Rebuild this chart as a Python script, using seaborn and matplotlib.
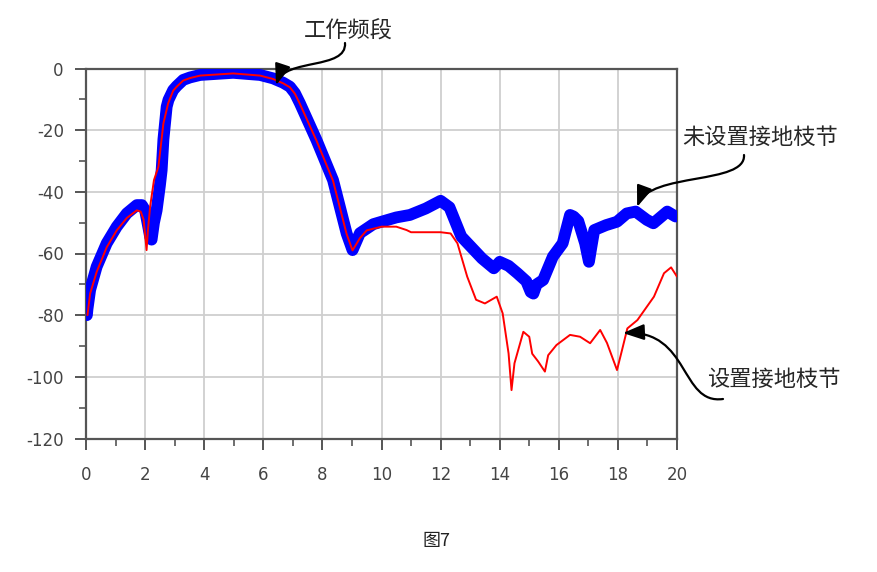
import numpy as np
import pandas as pd
import matplotlib.pyplot as plt
import seaborn as sns
from matplotlib.patches import FancyArrowPatch
from matplotlib.path import Path
from matplotlib.transforms import IdentityTransform
from matplotlib.ticker import MultipleLocator

# frequency (x) and response (dB)
freq_open = [0.03, 0.05, 0.14, 0.36, 0.7, 1.04, 1.38, 1.72, 1.89, 2.0, 2.1, 2.17, 2.22,
             2.3, 2.39, 2.5, 2.56, 2.62, 2.73, 2.79, 2.95, 3.07, 3.29, 3.52, 3.86, 4.98,
             5.89, 6.33, 6.45, 6.67, 6.9, 7.07, 7.24, 7.8, 8.36, 8.82, 9.02, 9.27, 9.72,
             10.0, 10.5, 10.96, 11.5, 12.0, 12.3, 12.7, 13.4, 13.8, 14.0, 14.3, 14.6,
             14.9, 15.05, 15.14, 15.25, 15.47, 15.8, 16.13, 16.38, 16.5, 16.66, 16.89,
             17.02, 17.1, 17.2, 17.6, 17.97, 18.3, 18.6, 18.98, 19.2, 19.67, 19.95]
db_open = [-80, -78, -71.8, -64.3, -56.7, -51.3, -47, -44.3, -44.3, -46, -51, -54.6, -55.5,
           -50, -46, -38, -33, -23, -12.4, -10.2, -7, -5.7, -3.7, -2.9, -2.1, -1.4,
           -2.1, -3.2, -3.7, -4.6, -5.9, -8, -11.3, -23.2, -36.2, -53.5, -58.9, -53.4, -50.5,
           -49.7, -48.3, -47.5, -45.4, -42.9, -45, -54.5, -61.6, -64.8, -62.7, -64, -66.4,
           -69, -72.5, -73, -70, -68.6, -61, -56.7, -47.5, -48, -49.5, -56.7,
           -62.7, -58, -52.4, -50.8, -49.7, -47, -46.4, -49.1, -50.2, -46.4, -48]

freq_stub = [0.05, 0.14, 0.36, 0.7, 1.04, 1.38, 1.72, 1.85, 1.95, 2.05, 2.1, 2.17, 2.3,
             2.45, 2.62, 2.78, 2.95, 3.07, 3.29, 3.52, 3.86, 4.98, 5.89, 6.33, 6.45, 6.67,
             6.9, 7.07, 7.24, 7.8, 8.36, 8.82, 9.02, 9.27, 9.5, 10.0, 10.5, 10.85, 11.0,
             12.0, 12.34, 12.57, 12.9, 13.2, 13.5, 13.9, 14.1, 14.3, 14.4, 14.5, 14.8,
             15.0, 15.1, 15.3, 15.53, 15.64, 15.92, 16.38, 16.72, 17.06, 17.4, 17.63,
             17.97, 18.14, 18.32, 18.66, 19.22, 19.56, 19.8, 20.0]
db_stub = [-80, -73, -66, -58, -52.5, -48.5, -46, -46.4, -49, -58.9, -52, -44.8, -36.2,
           -31.9, -17.8, -11.3, -7.2, -5.9, -3.9, -3.1, -2.3, -1.6, -2.3, -3.4, -3.9, -4.8,
           -6.1, -8.2, -11.5, -23.4, -36.4, -53.7, -59, -55, -52.5, -51.3, -51.3, -52.4, -53.1,
           -53.1, -53.5, -56.7, -67.5, -75, -76.2, -74, -79.4, -92.4, -104.3, -95.6, -85.4,
           -87, -92.5, -95, -98.3, -93, -89.7, -86.4, -87, -89.1, -84.8, -89,
           -97.8, -91.3, -84.3, -81.6, -74, -66.4, -64.5, -67.5]

x_ticks = list(range(0, 21, 2))
y_ticks = list(range(-120, 1, 20))

label_open = "未设置接地枝节"
label_stub = "设置接地枝节"
label_band = "工作频段"
caption = "图7"

sns.set_style("white")
plt.rcParams['font.family'] = ['DejaVu Sans']
plt.rcParams['axes.unicode_minus'] = False
cjk = ['Noto Sans CJK SC', 'DejaVu Sans']

fig = plt.figure(figsize=(8.78, 5.72), dpi=100)
ax = fig.add_axes([86 / 878, 1 - 438.5 / 572, (677 - 86) / 878, (438.5 - 68.5) / 572])

df_open = pd.DataFrame({"freq": freq_open, "db": db_open})
df_stub = pd.DataFrame({"freq": freq_stub, "db": db_stub})
sns.lineplot(data=df_open, x="freq", y="db", ax=ax, color="#0000ff", linewidth=8.5,
             estimator=None, solid_capstyle="round", solid_joinstyle="round", zorder=3)
sns.lineplot(data=df_stub, x="freq", y="db", ax=ax, color="#ff0000", linewidth=1.4,
             estimator=None, zorder=4)

ax.set_xlim(0, 20)
ax.set_ylim(-120, 0)
ax.set_xticks(x_ticks)
ax.set_yticks(y_ticks)
ax.xaxis.set_minor_locator(MultipleLocator(1))
ax.yaxis.set_minor_locator(MultipleLocator(10))
ax.grid(True, which="major", color="#cfcfcf", linewidth=1.3)
ax.set_axisbelow(True)
for s in ax.spines.values():
    s.set_color("#555555")
    s.set_linewidth(1.6)
ax.tick_params(which="both", bottom=True, left=True, direction="out", color="#555555")
ax.tick_params(which="major", length=8, width=1.4, labelsize=12, labelcolor="#444444", pad=8)
ax.tick_params(which="minor", length=5, width=1.2)
ax.tick_params(axis="x", which="major", pad=12)
ax.set_xlabel("")
ax.set_ylabel("")

# annotations
fig.text(348, 572 - 31, label_band, family=cjk, fontsize=16, ha="center", va="center",
         transform=IdentityTransform())
fig.text(760, 572 - 137, label_open, family=cjk, fontsize=16, ha="center", va="center",
         transform=IdentityTransform())
fig.text(774, 572 - 379, label_stub, family=cjk, fontsize=16, ha="center", va="center",
         transform=IdentityTransform())
fig.text(437, 572 - 541, caption, family=cjk, fontsize=13, ha="center", va="center",
         color="#222222", transform=IdentityTransform())


def curved_arrow(tip, start, c1, c2):
    tx, ty = ax.transData.transform(tip)
    verts = [(start[0], 572 - start[1]), (c1[0], 572 - c1[1]), (c2[0], 572 - c2[1]), (tx, ty)]
    path = Path(verts, [Path.MOVETO, Path.CURVE4, Path.CURVE4, Path.CURVE4])
    arr = FancyArrowPatch(path=path, arrowstyle="-|>,head_length=0.8,head_width=0.3",
                          mutation_scale=16, color="black", linewidth=1.6,
                          transform=IdentityTransform(), shrinkA=0, shrinkB=0, zorder=10)
    fig.add_artist(arr)


curved_arrow((6.43, -5.4), (345, 43), (347, 70), (285, 58))
curved_arrow((18.65, -44.9), (744, 155), (746, 185), (650, 172))
curved_arrow((18.17, -85.8), (723, 399), (680, 405), (690, 330))

fig.savefig("out.png", dpi=100)
